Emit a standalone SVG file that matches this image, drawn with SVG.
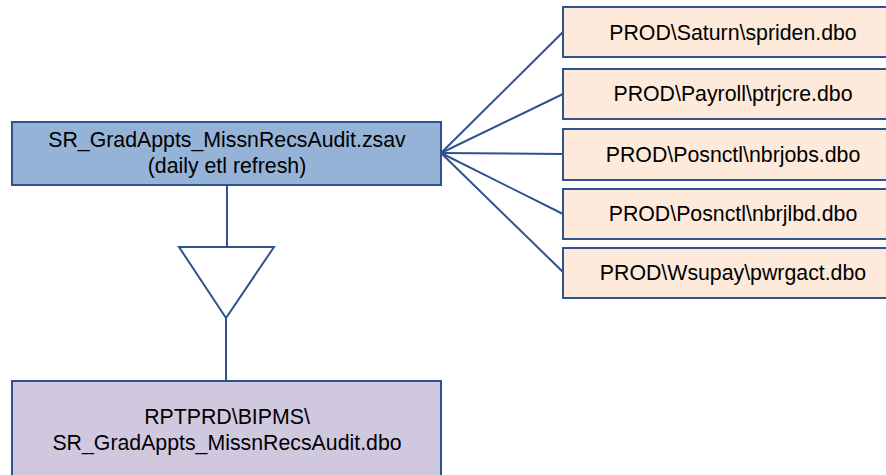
<svg xmlns="http://www.w3.org/2000/svg" width="886" height="475" viewBox="0 0 886 475">
<style>
.t{font-family:"Liberation Sans",Arial,sans-serif;font-size:21.3px;fill:#000;text-anchor:middle}
.src{fill:#FDEADA;stroke:#2F528F;stroke-width:2}
.c{stroke:#2F528F;stroke-width:2;fill:none}
</style>
<rect width="886" height="475" fill="#fff"/>
<g id="connectors">
<line class="c" x1="441" y1="153" x2="563" y2="32"/>
<line class="c" x1="441" y1="153" x2="563" y2="94"/>
<line class="c" x1="441" y1="153" x2="563" y2="154"/>
<line class="c" x1="441" y1="153" x2="563" y2="214"/>
<line class="c" x1="441" y1="153" x2="563" y2="272"/>
<line class="c" x1="227" y1="185" x2="227" y2="247"/>
<polygon class="c" points="179,247 274,247 226,318"/>
<line class="c" x1="226" y1="318" x2="226" y2="381"/>
</g>
<g id="main">
<rect x="12" y="122" width="429" height="63" fill="#95B3D7" stroke="#2F528F" stroke-width="2"/>
<text class="t" x="227" y="147">SR_GradAppts_MissnRecsAudit.zsav</text>
<text class="t" x="227" y="173">(daily etl refresh)</text>
</g>
<g id="target">
<rect x="12" y="381" width="429" height="100" fill="#D0C8DF" stroke="#2F528F" stroke-width="2"/>
<text class="t" x="227" y="424">RPTPRD\BIPMS\</text>
<text class="t" x="227" y="450">SR_GradAppts_MissnRecsAudit.dbo</text>
</g>
<g id="src1"><rect class="src" x="563" y="7" width="340" height="50"/><text class="t" x="733" y="40">PROD\Saturn\spriden.dbo</text></g>
<g id="src2"><rect class="src" x="563" y="69" width="340" height="50"/><text class="t" x="733" y="101">PROD\Payroll\ptrjcre.dbo</text></g>
<g id="src3"><rect class="src" x="563" y="129" width="340" height="51"/><text class="t" x="733" y="162">PROD\Posnctl\nbrjobs.dbo</text></g>
<g id="src4"><rect class="src" x="563" y="189" width="340" height="50"/><text class="t" x="733" y="221">PROD\Posnctl\nbrjlbd.dbo</text></g>
<g id="src5"><rect class="src" x="563" y="248" width="340" height="50"/><text class="t" x="733" y="280">PROD\Wsupay\pwrgact.dbo</text></g>
</svg>
